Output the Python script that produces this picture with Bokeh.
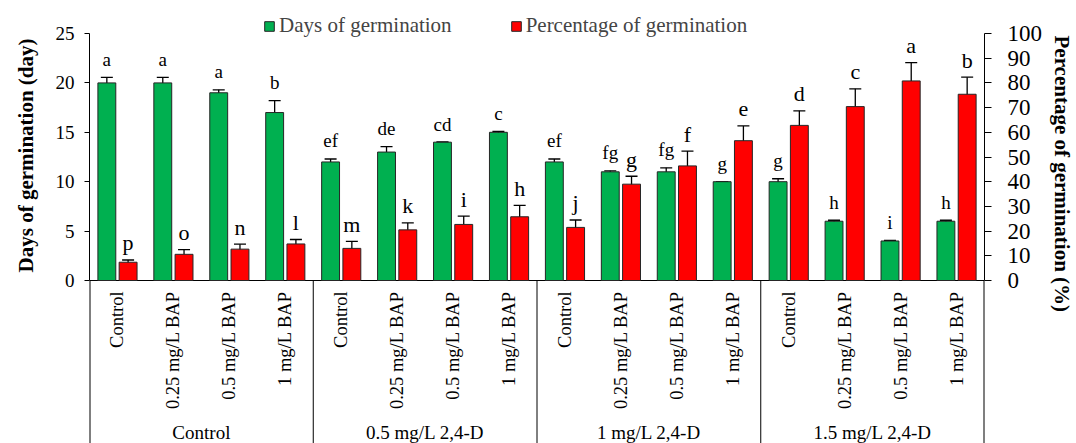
import math
from bokeh.plotting import figure
from bokeh.models import (Range1d, LinearAxis, FixedTicker, ColumnDataSource, Whisker,
                          TeeHead, Legend, LegendItem, Title)
from bokeh.core.properties import value
from bokeh.embed import file_html
from bokeh.resources import INLINE

# ---------------- data ----------------
groups = ["Control", "0.5 mg/L 2,4-D", "1 mg/L 2,4-D", "1.5 mg/L 2,4-D"]
treatments = ["Control", "0.25 mg/L BAP", "0.5 mg/L BAP", "1 mg/L BAP"]

days = [20, 20, 19, 17, 12, 13, 14, 15, 12, 11, 11, 10, 10, 6, 4, 6]
days_err = [0.55, 0.55, 0.3, 1.2, 0.3, 0.55, 0.0, 0.1, 0.3, 0.1, 0.4, 0.0, 0.3, 0.1, 0.05, 0.1]
days_letters = ["a", "a", "a", "b", "ef", "de", "cd", "c", "ef", "fg", "fg", "g", "g", "h", "i", "h"]

pct = [7.4, 10.6, 12.7, 14.8, 13.0, 20.5, 22.7, 25.8, 21.5, 39.0, 46.4, 56.6, 62.8, 70.4, 80.8, 75.4]
pct_err = [0.9, 1.9, 2.0, 1.8, 2.8, 2.8, 3.4, 4.6, 3.0, 3.2, 6.0, 6.0, 5.9, 7.2, 7.4, 6.9]
pct_letters = ["p", "o", "n", "l", "m", "k", "i", "h", "j", "g", "f", "e", "d", "c", "a", "b"]

left_ticks = [0, 5, 10, 15, 20, 25]
right_ticks = [0, 10, 20, 30, 40, 50, 60, 70, 80, 90, 100]

# ---------------- layout ----------------
FONT = "Liberation Serif"
W, H = 1076, 443
FRAME_L, FRAME_R = 88, 986
PX_TOP = 33          # pixel row of y = 25
PX_ZERO = 280        # pixel row of y = 0
Y_MAX = 25
PX_PER_DAY = (PX_ZERO - PX_TOP) / Y_MAX
Y_TOP = Y_MAX + PX_TOP / PX_PER_DAY
Y_MIN = -(H - PX_ZERO) / PX_PER_DAY
SCALE = 4            # 100 % <-> 25 days
GREEN = "#00B050"
RED = "#FF0000"
EDGE = "#262626"

n = len(days)
centers = [i + 0.5 for i in range(n)]
xg = [c - 0.19 for c in centers]
xr = [c + 0.19 for c in centers]
BW = 0.32

p = figure(width=W, height=H, x_range=Range1d(0, n), y_range=Range1d(Y_MIN, Y_TOP),
           output_backend="svg", toolbar_location=None,
           x_axis_location=None, y_axis_location=None,
           min_border_left=FRAME_L, min_border_right=W - FRAME_R,
           min_border_top=0, min_border_bottom=0)
p.outline_line_color = None
p.grid.visible = False
p.extra_y_ranges = {"pct": Range1d(Y_MIN * SCALE, Y_TOP * SCALE)}

def style_axis(ax, size, standoff, tick_out):
    ax.axis_line_color = "black"
    ax.axis_line_width = 1
    ax.major_tick_line_color = "black"
    ax.major_tick_out = tick_out
    ax.major_tick_in = 0
    ax.minor_tick_line_color = None
    ax.major_label_text_font = FONT
    ax.major_label_text_font_size = size
    ax.major_label_text_color = "black"
    ax.major_label_standoff = standoff

ax_l = LinearAxis(ticker=FixedTicker(ticks=left_ticks), bounds=(0, 25))
style_axis(ax_l, "19px", 10, 5)
p.add_layout(ax_l, "left")

ax_r = LinearAxis(y_range_name="pct", ticker=FixedTicker(ticks=right_ticks), bounds=(0, 100))
style_axis(ax_r, "23px", 16, 7)
p.add_layout(ax_r, "right")

# axis titles (pinned to the top of the value axes)
t_l = Title(text="Days of germination (day)", align="right", offset=38,
            vertical_align="top", standoff=26,
            text_font=FONT, text_font_style="bold", text_font_size="21px", text_color="black")
p.add_layout(t_l, "left")
t_r = Title(text="Percentage of germination (%)", align="left", offset=35,
            vertical_align="top", standoff=5,
            text_font=FONT, text_font_style="bold", text_font_size="21px", text_color="black")
p.add_layout(t_r, "right")

# baseline, frame-edge continuation lines and group separators
p.segment(x0=[0], y0=[0], x1=[n], y1=[0], line_color="black", line_width=1)
p.segment(x0=[0, n], y0=[Y_MIN, Y_MIN], x1=[0, n], y1=[0, 0], line_color="black", line_width=2)
sep = [4 * k for k in range(1, len(groups))]
p.segment(x0=sep, y0=[Y_MIN] * len(sep), x1=sep, y1=[0] * len(sep),
          line_color="black", line_width=1)

src = ColumnDataSource(dict(
    xg=xg, xr=xr, days=days, pct=pct,
    d_lo=[d - e for d, e in zip(days, days_err)], d_hi=[d + e for d, e in zip(days, days_err)],
    p_lo=[v - e for v, e in zip(pct, pct_err)], p_hi=[v + e for v, e in zip(pct, pct_err)],
    dl=days_letters, pl=pct_letters))

rg = p.vbar(x="xg", top="days", width=BW, bottom=0, source=src,
            fill_color=GREEN, line_color=EDGE, line_width=1)
rr = p.vbar(x="xr", top="pct", width=BW, bottom=0, source=src, y_range_name="pct",
            fill_color=RED, line_color=EDGE, line_width=1)

for base, lo, hi, rng in (("xg", "d_lo", "d_hi", "default"), ("xr", "p_lo", "p_hi", "pct")):
    w = Whisker(base=base, lower=lo, upper=hi, source=src, dimension="height",
                line_color="black", line_width=1.3, y_range_name=rng,
                upper_head=TeeHead(size=12, line_color="black", line_width=1.3),
                lower_head=TeeHead(size=12, line_color="black", line_width=1.3))
    p.add_layout(w)

p.text(x="xg", y="d_hi", text="dl", source=src, text_font=value(FONT),
       text_font_size="19px", text_align="center", text_baseline="alphabetic",
       y_offset=-18, text_color="black")
p.text(x="xr", y="p_hi", text="pl", source=src, y_range_name="pct", text_font=value(FONT),
       text_font_size="22px", text_align="center", text_baseline="alphabetic",
       y_offset=-17, text_color="black")

# category labels
cat_labels = treatments * len(groups)
p.text(x=centers, y=[-1.1] * n, text=cat_labels, angle=math.pi / 2,
       text_font=value(FONT), text_font_size="18.5px", text_align="right",
       text_baseline="middle", text_color="black")
gcent = [4 * k + 2 for k in range(len(groups))]
p.text(x=gcent, y=[Y_MIN + 0.1] * len(groups), text=groups,
       text_font=value(FONT), text_font_size="19px", text_align="center",
       text_baseline="bottom", text_color="black")

legend = Legend(items=[LegendItem(label="Days of germination", renderers=[rg]),
                       LegendItem(label="Percentage of germination", renderers=[rr])],
                orientation="horizontal", location=(174, 405),
                glyph_width=12, glyph_height=12, label_standoff=4, spacing=58,
                padding=0, margin=0, border_line_color=None, background_fill_alpha=0,
                label_text_font=FONT, label_text_font_size="21px", label_height=22)
p.add_layout(legend, "center")

open("out.html", "w").write(file_html(p, INLINE))
